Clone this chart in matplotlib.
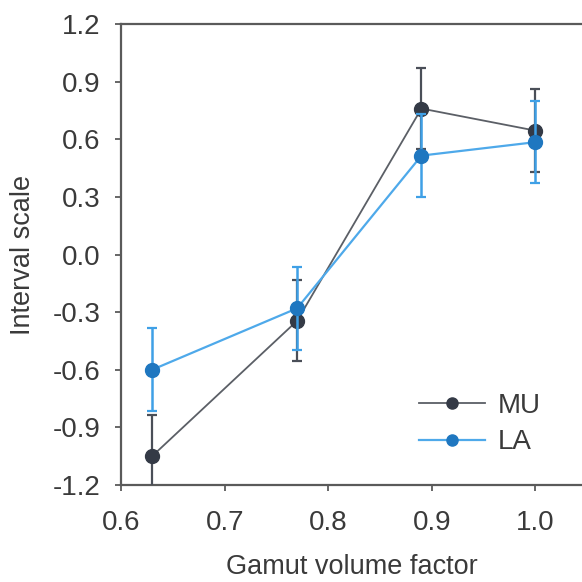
import matplotlib.pyplot as plt
from matplotlib.lines import Line2D

# --- data ---
gamut = [0.63, 0.77, 0.89, 1.0]
mu_vals = [-1.05, -0.345, 0.76, 0.645]
mu_err = [0.215, 0.21, 0.21, 0.215]
la_vals = [-0.60, -0.28, 0.515, 0.585]
la_err = [0.215, 0.215, 0.215, 0.215]
series_names = ['MU', 'LA']

plt.rcParams['font.family'] = ['Liberation Sans', 'DejaVu Sans']

fig = plt.figure(figsize=(5.82, 5.82), dpi=100)
ax = fig.add_axes([0.208, 0.1667, 0.792, 0.792])

text_col = '#3a3a3a'
spine_col = '#5a5a5a'
mu_line, mu_mark = '#5b5f66', '#343a46'
la_line, la_mark = '#4ea9ea', '#1f77c0'

ax.errorbar(gamut, mu_vals, yerr=mu_err, color=mu_line, lw=1.3,
            marker='o', ms=10, mfc=mu_mark, mec=mu_mark,
            ecolor='#4a4f58', elinewidth=1.6, capsize=3.5, capthick=1.6,
            zorder=3)
ax.errorbar(gamut, la_vals, yerr=la_err, color=la_line, lw=1.6,
            marker='o', ms=10, mfc=la_mark, mec=la_mark,
            ecolor='#3fa0e6', elinewidth=1.8, capsize=3.5, capthick=1.6,
            zorder=4)

ax.set_xlim(0.6, 1.045)
ax.set_ylim(-1.2, 1.2)
ax.set_xticks([0.6, 0.7, 0.8, 0.9, 1.0])
ax.set_yticks([-1.2, -0.9, -0.6, -0.3, 0.0, 0.3, 0.6, 0.9, 1.2])
ax.set_yticklabels(['-1.2', '-0.9', '-0.6', '-0.3', '0.0', '0.3', '0.6', '0.9', '1.2'])

ax.tick_params(axis='both', labelsize=20, colors=spine_col, labelcolor=text_col,
               direction='out', length=4, width=1.3, pad=11)
ax.tick_params(axis='x', pad=14)
for side in ['left', 'bottom', 'top']:
    ax.spines[side].set_color(spine_col)
    ax.spines[side].set_linewidth(1.6)
ax.spines['right'].set_visible(False)

ax.set_xlabel('Gamut volume factor', fontsize=19.5, color=text_col, labelpad=13)
ax.set_ylabel('Interval scale', fontsize=19.5, color=text_col)
ax.yaxis.set_label_coords(-0.185, 0.5)

handles = [
    Line2D([], [], color=mu_line, lw=1.3, marker='o', ms=8, mfc=mu_mark, mec=mu_mark),
    Line2D([], [], color=la_line, lw=1.6, marker='o', ms=8, mfc=la_mark, mec=la_mark),
]
leg = ax.legend(handles, series_names, loc='lower right',
                bbox_to_anchor=(0.965, 0.01), frameon=False,
                fontsize=20, handlelength=2.4, handletextpad=0.45,
                labelspacing=0.38)
for t in leg.get_texts():
    t.set_color(text_col)

fig.savefig('out.png', dpi=100)
